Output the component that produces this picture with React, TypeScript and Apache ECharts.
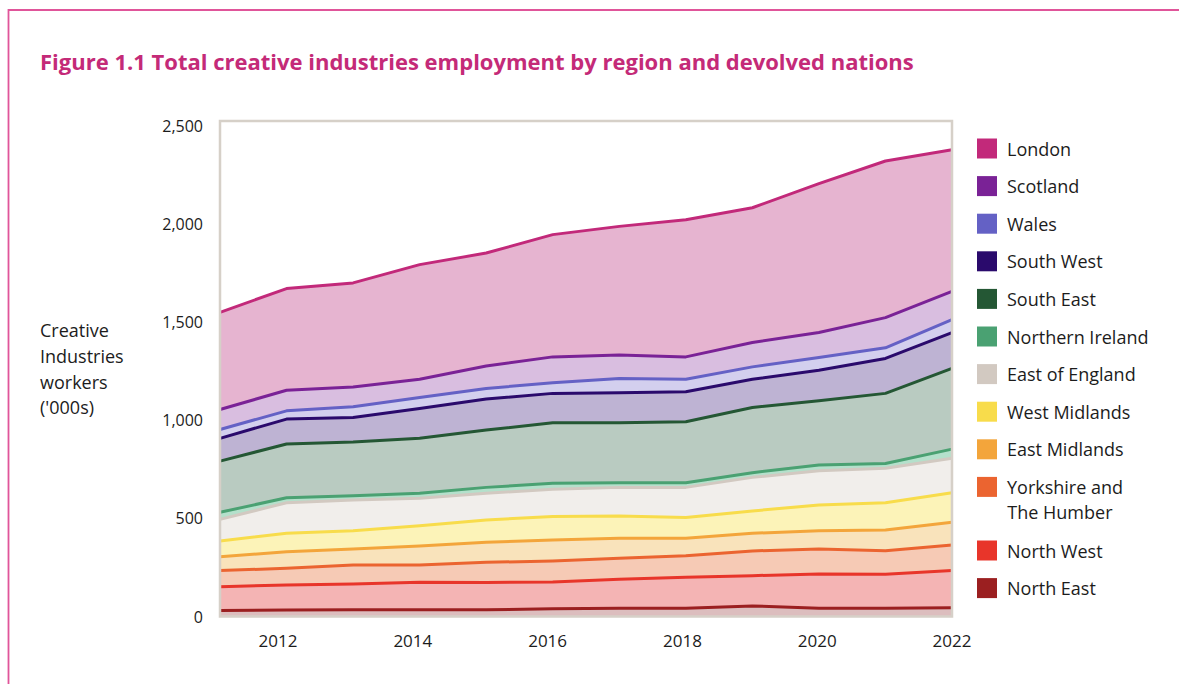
import React, { useEffect, useRef } from "react";
import * as echarts from "echarts";

// ---- Data (thousands of workers) ----
const years = [2011, 2012, 2013, 2014, 2015, 2016, 2017, 2018, 2019, 2020, 2021, 2022];
const xTickLabels = [2012, 2014, 2016, 2018, 2020, 2022];
const yTickValues = [0, 500, 1000, 1500, 2000, 2500];

const northEast = [30, 33, 34, 35, 34, 40, 42, 42, 54, 42, 42, 44];
const northWest = [122, 128, 132, 140, 139, 136, 148, 158, 154, 175, 173, 190];
const yorkshire = [82, 85, 97, 88, 103, 107, 107, 110, 126, 127, 120, 130];
const eastMidlands = [71, 84, 81, 96, 102, 107, 102, 89, 90, 93, 106, 116];
const westMidlands = [80, 94, 93, 104, 114, 119, 113, 105, 114, 131, 139, 151];
const eastOfEngland = [110, 156, 157, 139, 136, 139, 146, 154, 171, 175, 175, 175];
const northernIreland = [36, 25, 21, 26, 30, 31, 24, 24, 24, 29, 25, 47];
const southEast = [261, 274, 274, 280, 292, 308, 305, 310, 332, 327, 357, 411];
const southWest = [116, 127, 125, 152, 158, 150, 153, 153, 144, 156, 178, 183];
const wales = [45, 42, 55, 56, 54, 54, 73, 64, 63, 65, 54, 66];
const scotland = [102, 105, 101, 93, 115, 132, 119, 114, 124, 127, 154, 144];
const london = [495, 518, 530, 584, 575, 623, 656, 699, 687, 759, 798, 722];

// bottom of stack first
const regionNames = [
  "North East",
  "North West",
  "Yorkshire and The Humber",
  "East Midlands",
  "West Midlands",
  "East of England",
  "Northern Ireland",
  "South East",
  "South West",
  "Wales",
  "Scotland",
  "London",
];
const regionValues = [
  northEast, northWest, yorkshire, eastMidlands, westMidlands, eastOfEngland,
  northernIreland, southEast, southWest, wales, scotland, london,
];
const lineColors = [
  "#9b1f20", "#e8352a", "#eb6430", "#f3a53b", "#f8dc4b", "#d2c9c1",
  "#4aa172", "#245734", "#2a0a6c", "#6461c5", "#7a2296", "#c2297a",
];
const fillColors = [
  "#dcbdbe", "#f4b4b4", "#f6cab5", "#f9e3bb", "#fcf3b8", "#f1eeeb",
  "#b4e0cb", "#b9cbc1", "#beb3d3", "#d3cfee", "#d9bee0", "#e6b4d0",
];

const FONT = "'Open Sans', 'Noto Sans', sans-serif";
const TEXT = "#1c1c1c";

export default function App() {
  const ref = useRef<HTMLDivElement>(null);

  useEffect(() => {
    document.body.style.margin = "0";
    const chart = echarts.init(ref.current!, null, { renderer: "svg", width: 1179, height: 684 });

    const series = regionNames.map((name, i) => ({
      name,
      type: "line",
      stack: "total",
      xAxisIndex: 0,
      yAxisIndex: 0,
      symbol: "none",
      color: lineColors[i],
      itemStyle: { color: lineColors[i] },
      lineStyle: { color: lineColors[i], width: 3, join: "round" },
      areaStyle: { color: fillColors[i], opacity: 1 },
      z: 2 + (regionNames.length - i),
      data: regionValues[i],
    }));

    const legendNamesA = [
      "London", "Scotland", "Wales", "South West", "South East", "Northern Ireland",
      "East of England", "West Midlands", "East Midlands", "Yorkshire and The Humber",
    ];
    const legendNamesB = ["North West", "North East"];
    const legendItem = (n: string) => ({
      name: n,
      itemStyle: { color: lineColors[regionNames.indexOf(n)], borderWidth: 0 },
    });
    const legendCommon = {
      orient: "vertical",
      left: 977,
      padding: 0,
      itemWidth: 20,
      itemHeight: 20,
      itemGap: 17.6,
      icon: "rect",
      selectedMode: false,
      itemStyle: { borderWidth: 0 },
      textStyle: {
        fontFamily: FONT,
        fontSize: 18,
        color: TEXT,
        lineHeight: 20,
        padding: [0, 0, 0, 5],
      },
    };

    chart.setOption({
      animation: false,
      backgroundColor: "#ffffff",
      title: {
        text: "Figure 1.1 Total creative industries employment by region and devolved nations",
        left: 40,
        top: 48,
        padding: 0,
        textStyle: {
          fontFamily: FONT,
          fontSize: 22,
          fontWeight: 700,
          color: "#c42a78",
          lineHeight: 26,
        },
      },
      legend: [
        {
          ...legendCommon,
          top: 138.5,
          data: legendNamesA.map(legendItem),
          formatter: (n: string) => (n === "Yorkshire and The Humber" ? "Yorkshire and" : n),
        },
        {
          ...legendCommon,
          top: 540.5,
          data: legendNamesB.map(legendItem),
        },
      ],
      grid: { left: 220, top: 121, width: 732, height: 495.5, containLabel: false },
      xAxis: [
        {
          type: "category",
          data: years.map(String),
          boundaryGap: false,
          show: false,
        },
        {
          type: "value",
          min: 2011.139,
          max: 2022,
          position: "bottom",
          axisLine: { show: false },
          axisTick: { show: false },
          splitLine: { show: false },
          axisLabel: {
            customValues: xTickLabels,
            formatter: (v: number) => String(v),
            margin: 15,
            fontFamily: FONT,
            fontSize: 17,
            color: TEXT,
          },
        },
      ],
      yAxis: {
        type: "value",
        min: 0,
        max: 2525,
        axisLine: { show: false },
        axisTick: { show: false },
        splitLine: { show: false },
        axisLabel: {
          customValues: yTickValues,
          formatter: (v: number) => v.toLocaleString("en-US"),
          margin: 17,
          fontFamily: FONT,
          fontSize: 16,
          color: TEXT,
        },
        name: "Creative\nIndustries\nworkers\n('000s)",
        nameLocation: "middle",
        nameRotate: 0,
        nameGap: 180,
        nameTextStyle: {
          fontFamily: FONT,
          fontSize: 18,
          color: TEXT,
          align: "left",
          verticalAlign: "middle",
          lineHeight: 25.7,
        },
      },
      series,
      graphic: [
        {
          type: "rect",
          z: 100,
          silent: true,
          shape: { x: 220, y: 121, width: 732, height: 495.5 },
          style: { fill: "none", stroke: "#d6d0c8", lineWidth: 2.5 },
        },
        {
          type: "rect",
          z: 100,
          silent: true,
          shape: { x: 8.5, y: 10, width: 1400, height: 900 },
          style: { fill: "none", stroke: "#e0559a", lineWidth: 1.8 },
        },
        {
          type: "text",
          z: 100,
          x: 1007.3,
          y: 512,
          style: {
            text: "The Humber",
            fontFamily: FONT,
            fontSize: 18,
            fill: TEXT,
            verticalAlign: "middle",
            align: "left",
          },
        },
      ],
    });

    return () => chart.dispose();
  }, []);

  return (
    <div
      ref={ref}
      style={{ width: 1179, height: 684, position: "absolute", left: 0, top: 0, background: "#fff" }}
    />
  );
}
